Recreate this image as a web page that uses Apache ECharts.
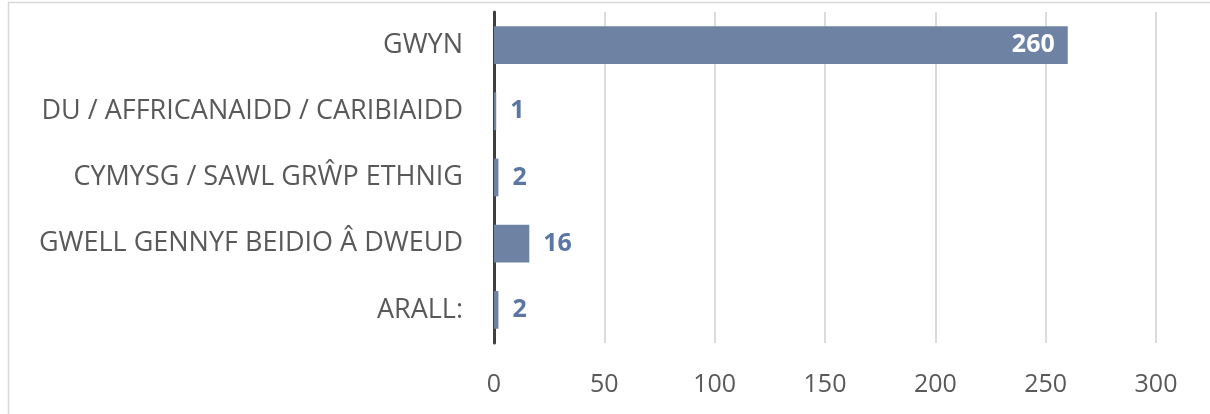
<!DOCTYPE html>
<html><head><meta charset="utf-8">
<script src="https://cdn.jsdelivr.net/npm/echarts@6/dist/echarts.min.js"></script>
<style>html,body{margin:0;padding:0;background:#fff}#c{width:1210px;height:414px}</style>
</head><body><div id="c"></div>
<script>
const categories = ['GWYN', 'DU / AFFRICANAIDD / CARIBIAIDD', 'CYMYSG / SAWL GRŴP ETHNIG', 'GWELL GENNYF BEIDIO Â DWEUD', 'ARALL:'];
const values = [260, 1, 2, 16, 2];
const xTicks = [0, 50, 100, 150, 200, 250, 300];

const chart = echarts.init(document.getElementById('c'), null, {renderer: 'canvas'});
const font = '"Open Sans", "Noto Sans", sans-serif';
chart.setOption({
  animation: false,
  backgroundColor: '#fff',
  graphic: [{
    type: 'rect', left: 6, top: 0, shape: {width: 1203, height: 413},
    style: {fill: 'none', stroke: '#d9d9d9', lineWidth: 1.5}, silent: true, z: -1
  }],
  grid: {left: 494, right: 54, top: 12, bottom: 71},
  xAxis: {
    type: 'value', min: xTicks[0], max: xTicks[xTicks.length - 1], interval: 50,
    axisLine: {show: false}, axisTick: {show: false},
    splitLine: {show: true, lineStyle: {color: '#cfcfcf', width: 1.5}},
    axisLabel: {color: '#595959', fontSize: 25, fontFamily: font, margin: 29}
  },
  yAxis: {
    type: 'category', data: categories, inverse: true,
    axisLine: {show: true, lineStyle: {color: '#3f3f3f', width: 3}},
    axisTick: {show: false},
    axisLabel: {color: '#595959', fontSize: 27, fontFamily: font, margin: 31}
  },
  series: [{
    type: 'bar', data: values.map((v, i) => ({
      value: v,
      label: i === 0
        ? {show: true, position: 'insideRight', color: '#fff', distance: 13}
        : {show: true, position: 'right', color: '#5b76a3', distance: 14}
    })),
    barWidth: '57%',
    itemStyle: {color: '#6e83a3'},
    label: {fontSize: 25, fontWeight: 'bold', fontFamily: font}
  }]
});
</script></body></html>
